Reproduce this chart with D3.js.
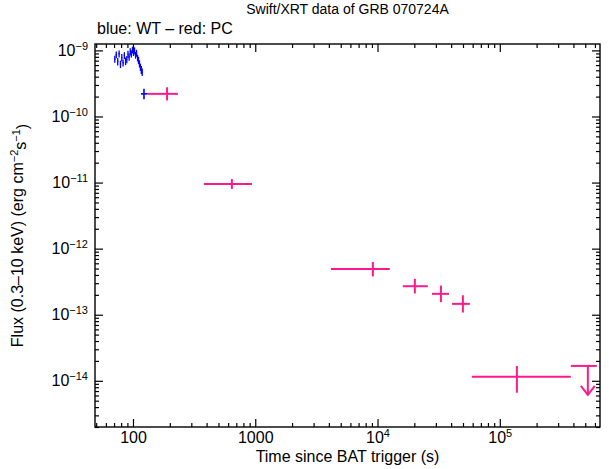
<!DOCTYPE html>
<html><head><meta charset="utf-8">
<script src="https://cdn.jsdelivr.net/npm/d3@7"></script>
<style>
body{margin:0;background:#fff}
text{font-family:"Liberation Sans",Arial,Helvetica,sans-serif;fill:#000}
</style>
</head><body>
<svg id="c" width="609" height="469"></svg>
<script>
// ---- data ----
const xTickValues = [100, 1000, 1e4, 1e5];
const xTickLabels = [["100",""],["1000",""],["10","4"],["10","5"]];
const yTickValues = [1e-9, 1e-10, 1e-11, 1e-12, 1e-13, 1e-14];
const yTickLabels = [["10","−9"],["10","−10"],["10","−11"],["10","−12"],["10","−13"],["10","−14"]];

// WT mode (blue)
const wtTime   = [71,73,75,77,79,81,83,85,87,89,91,93,95,97,99,101,103,105,107,109,111,113,115,117,119];
const wtFlux   = [7.4e-10,8.6e-10,6.8e-10,8.9e-10,6.2e-10,7.8e-10,6.5e-10,8.4e-10,6.9e-10,7.3e-10,8.8e-10,8.0e-10,
                  9.6e-10,8.9e-10,10.2e-10,9.3e-10,9.9e-10,8.5e-10,9.1e-10,7.7e-10,7.1e-10,6.3e-10,5.6e-10,5.1e-10,4.7e-10];
const wtFluxErr= [0.9e-10,1.0e-10,0.9e-10,1.1e-10,0.8e-10,1.0e-10,0.8e-10,1.0e-10,0.9e-10,0.9e-10,1.1e-10,1.0e-10,
                  1.2e-10,1.1e-10,1.2e-10,1.1e-10,1.2e-10,1.0e-10,1.1e-10,0.9e-10,0.9e-10,0.8e-10,0.7e-10,0.7e-10,0.6e-10];
const wtTimeErr= [1,1,1,1,1,1,1,1,1,1,1,1,1,1,1,1,1,1,1,1,1,1,1,1,1];
// last WT bin
const wtBinTime = [123], wtBinTimeLo=[116], wtBinTimeHi=[132];
const wtBinFlux = [2.2e-10], wtBinFluxLo=[1.83e-10], wtBinFluxHi=[2.63e-10];

// PC mode (red)
const pcTime   = [190, 644, 9160, 20200, 33000, 49900, 138000];
const pcTimeLo = [132, 380, 4160, 16100, 27900, 40600, 59000];
const pcTimeHi = [233, 940, 12600, 25800, 38400, 56900, 381000];
const pcFlux   = [2.2e-10, 9.5e-12, 4.9e-13, 2.7e-13, 2.07e-13, 1.46e-13, 1.15e-14];
const pcFluxLo = [1.75e-10, 8.0e-12, 3.8e-13, 2.1e-13, 1.55e-13, 1.08e-13, 6.6e-15];
const pcFluxHi = [2.77e-10, 1.13e-11, 6.3e-13, 3.5e-13, 2.76e-13, 1.97e-13, 1.68e-14];

// PC upper limit
const ulTime = [525000], ulTimeLo=[381000], ulTimeHi=[622000];
const ulFlux = [1.68e-14];

// ---- layout ----
const L=95, R=600, T=44, B=427;
const svg = d3.select("#c");
const x = d3.scaleLog().domain([48.9, 6.6e5]).range([L, R]);
const y = d3.scaleLog().domain([2e-15, 1.25e-9]).range([B, T]);

const blue="#0000ff", pink="#ff1a8c";
const FS="16px", SUP="11px";

function minorTicks(scale){
  return scale.ticks().filter(v => Math.abs(Math.log10(v) - Math.round(Math.log10(v))) > 1e-6);
}
function supLabels(sel, labels){
  sel.selectAll(".tick text").each(function(d,i){
    const t=d3.select(this); t.text(null);
    t.append("tspan").text(labels[i][0]);
    if(labels[i][1]) t.append("tspan").attr("dy","-0.55em").attr("font-size",SUP).text(labels[i][1]);
  });
}
function styleAxis(g){
  g.select(".domain").remove();
  g.selectAll(".tick line").attr("stroke","#000").attr("stroke-width",1.2);
  g.selectAll("text").attr("font-size",FS).attr("font-family",'"Liberation Sans",Arial,sans-serif').attr("fill","#000");
}

// bottom
const gb = svg.append("g").attr("transform",`translate(0,${B})`);
gb.append("g").call(d3.axisBottom(x).tickValues(minorTicks(x)).tickSize(-4).tickSizeOuter(0).tickFormat("")).call(styleAxis);
const gbM = gb.append("g").call(d3.axisBottom(x).tickValues(xTickValues).tickSize(-8).tickSizeOuter(0).tickPadding(5)).call(styleAxis);
supLabels(gbM, xTickLabels);
// top
const gt = svg.append("g").attr("transform",`translate(0,${T})`);
gt.append("g").call(d3.axisTop(x).tickValues(minorTicks(x)).tickSize(-4).tickSizeOuter(0).tickFormat("")).call(styleAxis);
gt.append("g").call(d3.axisTop(x).tickValues(xTickValues).tickSize(-8).tickSizeOuter(0).tickFormat("")).call(styleAxis);
// left
const gl = svg.append("g").attr("transform",`translate(${L},0)`);
gl.append("g").call(d3.axisLeft(y).tickValues(minorTicks(y)).tickSize(-4).tickSizeOuter(0).tickFormat("")).call(styleAxis);
const glM = gl.append("g").call(d3.axisLeft(y).tickValues(yTickValues).tickSize(-8).tickSizeOuter(0).tickPadding(7)).call(styleAxis);
supLabels(glM, yTickLabels);
// right
const gr = svg.append("g").attr("transform",`translate(${R},0)`);
gr.append("g").call(d3.axisRight(y).tickValues(minorTicks(y)).tickSize(-4).tickSizeOuter(0).tickFormat("")).call(styleAxis);
gr.append("g").call(d3.axisRight(y).tickValues(yTickValues).tickSize(-8).tickSizeOuter(0).tickFormat("")).call(styleAxis);

// frame
svg.append("rect").attr("x",L).attr("y",T).attr("width",R-L).attr("height",B-T)
  .attr("fill","none").attr("stroke","#000").attr("stroke-width",1.4);

// ---- data marks ----
const gd = svg.append("g");
function errCross(g, t, tlo, thi, f, flo, fhi, color, w){
  g.append("line").attr("x1",x(tlo)).attr("x2",x(thi)).attr("y1",y(f)).attr("y2",y(f))
   .attr("stroke",color).attr("stroke-width",w);
  g.append("line").attr("x1",x(t)).attr("x2",x(t)).attr("y1",y(flo)).attr("y2",y(fhi))
   .attr("stroke",color).attr("stroke-width",w);
}
wtTime.forEach((t,i)=>errCross(gd, t, t-wtTimeErr[i], t+wtTimeErr[i], wtFlux[i], wtFlux[i]-wtFluxErr[i], wtFlux[i]+wtFluxErr[i], blue, 1.3));
wtBinTime.forEach((t,i)=>errCross(gd, t, wtBinTimeLo[i], wtBinTimeHi[i], wtBinFlux[i], wtBinFluxLo[i], wtBinFluxHi[i], blue, 1.6));
pcTime.forEach((t,i)=>errCross(gd, t, pcTimeLo[i], pcTimeHi[i], pcFlux[i], pcFluxLo[i], pcFluxHi[i], pink, 2));

// upper limit
ulTime.forEach((t,i)=>{
  const yy=y(ulFlux[i]), xx=x(t), len=29;
  gd.append("line").attr("x1",x(ulTimeLo[i])).attr("x2",x(ulTimeHi[i])).attr("y1",yy).attr("y2",yy).attr("stroke",pink).attr("stroke-width",2);
  gd.append("line").attr("x1",xx).attr("x2",xx).attr("y1",yy).attr("y2",yy+len).attr("stroke",pink).attr("stroke-width",2);
  gd.append("path").attr("d",`M${xx-7},${yy+len-9}L${xx},${yy+len}L${xx+7},${yy+len-9}`)
    .attr("fill","none").attr("stroke",pink).attr("stroke-width",2);
});

// ---- texts ----
svg.append("text").attr("x",(L+R)/2).attr("y",14).attr("text-anchor","middle").attr("font-size","14px")
  .text("Swift/XRT data of GRB 070724A");
svg.append("text").attr("x",L+2).attr("y",34).attr("font-size","16px").text("blue: WT – red: PC");
svg.append("text").attr("x",(L+R)/2).attr("y",462).attr("text-anchor","middle").attr("font-size",FS)
  .text("Time since BAT trigger (s)");
const yl = svg.append("text").attr("transform",`translate(23,${(T+B)/2}) rotate(-90)`).attr("text-anchor","middle").attr("font-size",FS);
yl.append("tspan").text("Flux (0.3–10 keV) (erg cm");
yl.append("tspan").attr("dy","-0.5em").attr("font-size",SUP).text("−2");
yl.append("tspan").attr("dy","0.5em").text("s");
yl.append("tspan").attr("dy","-0.5em").attr("font-size",SUP).text("−1");
yl.append("tspan").attr("dy","0.5em").text(")");
</script>
</body></html>
